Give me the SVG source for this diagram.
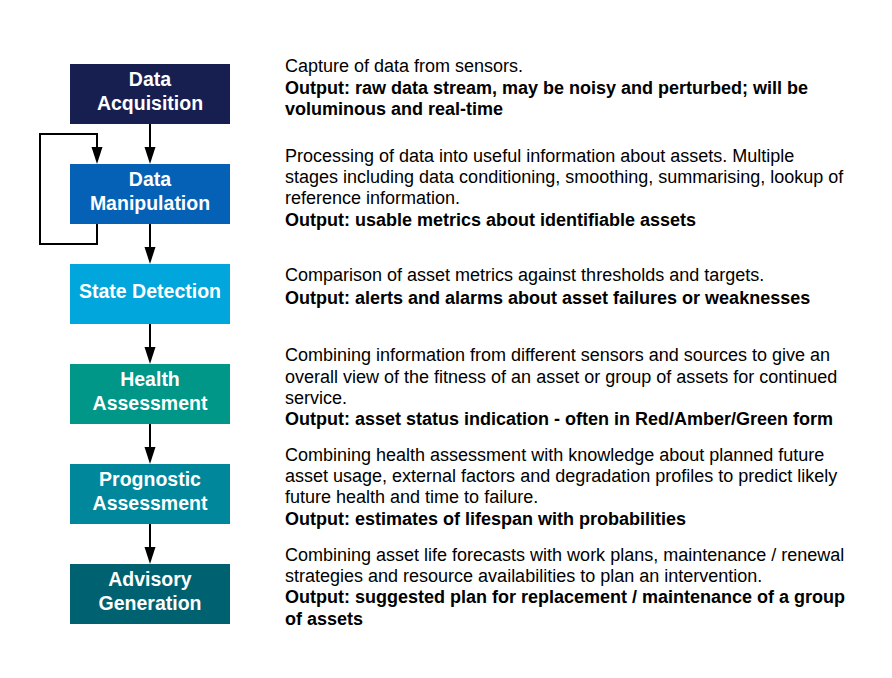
<svg xmlns="http://www.w3.org/2000/svg" width="892" height="678" viewBox="0 0 892 678">
<style>
.box-label{font-family:"Liberation Sans",Arial,sans-serif;font-size:19.5px;font-weight:bold;fill:#ffffff;text-anchor:middle}
.desc{font-family:"Liberation Sans",Arial,sans-serif;font-size:18px;fill:#000000}
.desc .b{font-weight:bold}
.conn{fill:none;stroke:#000000;stroke-width:2}
.head{fill:#000000}
</style>
<rect width="892" height="678" fill="#ffffff"/>
<g id="connectors">
<path class="conn" d="M150,124 V148"/>
<path class="head" d="M144.5,147 H155.5 L150,164 Z"/>
<path class="conn" d="M97,224 V244 H40 V134 H97 V148"/>
<path class="head" d="M91.5,147 H102.5 L97,164 Z"/>
<path class="conn" d="M150,224 V248"/>
<path class="head" d="M144.5,247 H155.5 L150,264 Z"/>
<path class="conn" d="M150,324 V348"/>
<path class="head" d="M144.5,347 H155.5 L150,364 Z"/>
<path class="conn" d="M150,424 V448"/>
<path class="head" d="M144.5,447 H155.5 L150,464 Z"/>
<path class="conn" d="M150,524 V548"/>
<path class="head" d="M144.5,547 H155.5 L150,564 Z"/>
</g>
<g id="node-acquisition">
<rect x="70" y="64" width="160" height="60" fill="#171e50"/>
<text class="box-label" x="150" y="86">Data</text>
<text class="box-label" x="150" y="110">Acquisition</text>
</g>
<g id="node-manipulation">
<rect x="70" y="164" width="160" height="60" fill="#0561b6"/>
<text class="box-label" x="150" y="186">Data</text>
<text class="box-label" x="150" y="210">Manipulation</text>
</g>
<g id="node-state">
<rect x="70" y="264" width="160" height="60" fill="#00a6dc"/>
<text class="box-label" x="150" y="298">State Detection</text>
</g>
<g id="node-health">
<rect x="70" y="364" width="160" height="60" fill="#009688"/>
<text class="box-label" x="150" y="386">Health</text>
<text class="box-label" x="150" y="410">Assessment</text>
</g>
<g id="node-prognostic">
<rect x="70" y="464" width="160" height="60" fill="#00879b"/>
<text class="box-label" x="150" y="486">Prognostic</text>
<text class="box-label" x="150" y="510">Assessment</text>
</g>
<g id="node-advisory">
<rect x="70" y="564" width="160" height="60" fill="#006270"/>
<text class="box-label" x="150" y="586">Advisory</text>
<text class="box-label" x="150" y="610">Generation</text>
</g>
<g id="desc-acquisition" class="desc">
<text x="285" y="72">Capture of data from sensors.</text>
<text x="285" y="94" class="b">Output: raw data stream, may be noisy and perturbed; will be</text>
<text x="285" y="115" class="b">voluminous and real-time</text>
</g>
<g id="desc-manipulation" class="desc">
<text x="285" y="162">Processing of data into useful information about assets. Multiple</text>
<text x="285" y="183">stages including data conditioning, smoothing, summarising, lookup of</text>
<text x="285" y="204">reference information.</text>
<text x="285" y="226" class="b">Output: usable metrics about identifiable assets</text>
</g>
<g id="desc-state" class="desc">
<text x="285" y="281">Comparison of asset metrics against thresholds and targets.</text>
<text x="285" y="304" class="b">Output: alerts and alarms about asset failures or weaknesses</text>
</g>
<g id="desc-health" class="desc">
<text x="285" y="361">Combining information from different sensors and sources to give an</text>
<text x="285" y="383">overall view of the fitness of an asset or group of assets for continued</text>
<text x="285" y="404">service.</text>
<text x="285" y="425" class="b">Output: asset status indication - often in Red/Amber/Green form</text>
</g>
<g id="desc-prognostic" class="desc">
<text x="285" y="461">Combining health assessment with knowledge about planned future</text>
<text x="285" y="482">asset usage, external factors and degradation profiles to predict likely</text>
<text x="285" y="503">future health and time to failure.</text>
<text x="285" y="525" class="b">Output: estimates of lifespan with probabilities</text>
</g>
<g id="desc-advisory" class="desc">
<text x="285" y="561">Combining asset life forecasts with work plans, maintenance / renewal</text>
<text x="285" y="582">strategies and resource availabilities to plan an intervention.</text>
<text x="285" y="603" class="b">Output: suggested plan for replacement / maintenance of a group</text>
<text x="285" y="625" class="b">of assets</text>
</g>
</svg>
